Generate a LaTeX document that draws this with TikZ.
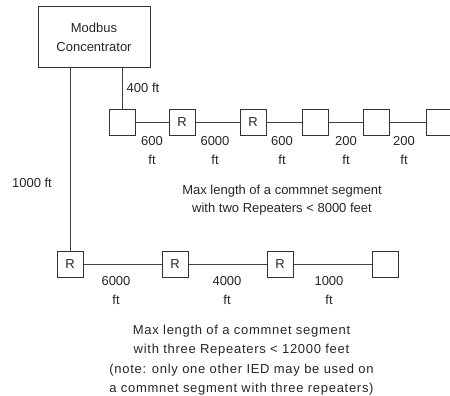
\documentclass[tikz,border=0pt]{standalone}
\usepackage{fontspec}
\setmainfont{Liberation Sans}
\newfontfamily\spacedfont[LetterSpace=5.5]{Liberation Sans}
\begin{document}
\begin{tikzpicture}[x=1pt,y=-1pt,
  every node/.style={font=\fontsize{13}{19}\selectfont, text=black!85},
  box/.style={draw=black!80, line width=1pt, minimum size=26pt, inner sep=0pt, fill=white},
  wire/.style={draw=black!75, line width=0.9pt},
  lbl/.style={align=center, inner sep=0pt}]
\useasboundingbox (0,0) rectangle (450,396);
% concentrator
\node[draw=black!80, line width=1pt, minimum width=112pt, minimum height=61pt, inner sep=0pt, align=center] (mc) at (94,37.5) {Modbus\\Concentrator};
\coordinate (l1) at (70,68);
\coordinate (l2) at (122,68);
% top row
\node[box] (b1) at (122,122) {};
\node[box] (r1) at (182,122) {R};
\node[box] (r2) at (253,122) {R};
\node[box] (b2) at (315,122) {};
\node[box] (b3) at (376,122) {};
\node[box] (b4) at (439,122) {};
% bottom row
\node[box] (s1) at (70,264.5) {R};
\node[box] (s2) at (175,264.5) {R};
\node[box] (s3) at (280,264.5) {R};
\node[box] (s4) at (385,264.5) {};
% wires
\draw[wire] (l2) -- (b1.north);
\draw[wire] (l1) -- (s1.north);
\draw[wire] (b1) -- (r1);
\draw[wire] (r1) -- (r2);
\draw[wire] (r2) -- (b2);
\draw[wire] (b2) -- (b3);
\draw[wire] (b3) -- (b4);
\draw[wire] (s1) -- (s2);
\draw[wire] (s2) -- (s3);
\draw[wire] (s3) -- (s4);
% labels
\node[lbl] (t400) at (143,88) {400 ft};
\node[lbl] (t1000) at (32,183) {1000 ft};
\node[lbl, anchor=north] (a1) at (152,136) {600\\ft};
\node[lbl, anchor=north] (a2) at (215,136) {6000\\ft};
\node[lbl, anchor=north] (a3) at (282,136) {600\\ft};
\node[lbl, anchor=north] (a4) at (346,136) {200\\ft};
\node[lbl, anchor=north] (a5) at (404,136) {200\\ft};
\node[lbl, anchor=north] (c1) at (116,276) {6000\\ft};
\node[lbl, anchor=north] (c2) at (227,276) {4000\\ft};
\node[lbl, anchor=north] (c3) at (329,276) {1000\\ft};
\node[lbl, font=\fontsize{13}{17.5}\selectfont, anchor=north] (cap1) at (282,185) {Max length of a commnet segment\\with two Repeaters < 8000 feet};
\node[lbl, font=\spacedfont\fontsize{13}{19.3}\selectfont, anchor=north] (cap2) at (241.5,325) {Max length of a commnet segment\\with three Repeaters < 12000 feet\\(note: only one other IED may be used on\\a commnet segment with three repeaters)};
\end{tikzpicture}
\end{document}
